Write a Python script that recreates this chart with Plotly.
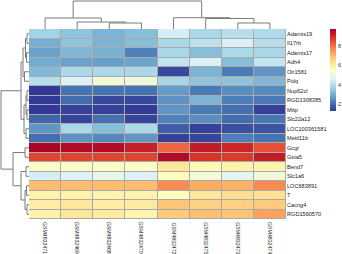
import plotly.graph_objects as go
import numpy as np

samples = ["GSM4832471", "GSM4832469", "GSM4832468", "GSM4832470",
           "GSM4832472", "GSM4832475", "GSM4832473", "GSM4832474"]
genes = ["Adamts19", "Il17rb", "Adamts17", "Adh4", "Olr1581", "Polq", "Nup62cl",
         "RGD1308385", "Mttp", "Slc22a12", "LOC100361581", "Mettl11b", "Gcgr",
         "Gsta5", "Bend7", "Slc1a6", "LOC683891", "T", "Cacng4", "RGD1560570"]

Adamts19 = [3.7, 3.4, 3.1, 3.3, 4.5, 3.8, 4.0, 3.9]
Il17rb = [3.0, 3.4, 3.1, 3.3, 3.8, 4.1, 4.6, 4.0]
Adamts17 = [2.8, 3.15, 3.05, 2.3, 3.8, 3.3, 3.85, 3.8]
Adh4 = [2.95, 2.8, 2.75, 2.85, 4.2, 4.6, 3.3, 4.2]
Olr1581 = [3.2, 3.8, 3.8, 3.8, 1.5, 3.1, 2.2, 2.6]
Polq = [4.0, 4.6, 5.2, 5.1, 3.75, 3.4, 3.4, 3.15]
Nup62cl = [1.3, 2.1, 2.1, 2.1, 2.7, 2.2, 2.5, 2.45]
RGD1308385 = [1.3, 2.0, 1.5, 1.5, 2.55, 3.1, 2.25, 2.2]
Mttp = [1.3, 1.4, 1.4, 1.35, 2.6, 2.2, 2.05, 1.4]
Slc22a12 = [1.9, 1.45, 2.05, 1.45, 2.3, 2.5, 2.0, 2.15]
LOC100361581 = [2.6, 3.8, 3.3, 3.85, 1.8, 1.4, 1.6, 1.65]
Mettl11b = [2.05, 2.55, 2.4, 2.6, 1.4, 1.45, 2.25, 2.1]
Gcgr = [9.7, 9.6, 9.6, 9.25, 8.2, 9.3, 9.1, 8.5]
Gsta5 = [8.65, 8.65, 8.65, 8.65, 9.6, 8.9, 8.8, 9.3]
Bend7 = [5.4, 5.4, 5.4, 5.4, 6.2, 5.6, 5.9, 5.85]
Slc1a6 = [4.5, 4.65, 4.9, 4.6, 5.6, 5.2, 4.8, 5.1]
LOC683891 = [7.0, 7.0, 7.0, 7.0, 7.7, 7.25, 7.15, 7.7]
T = [5.9, 5.9, 5.85, 5.9, 5.55, 6.2, 6.4, 6.35]
Cacng4 = [6.0, 6.2, 6.0, 6.1, 6.85, 6.65, 6.65, 6.75]
RGD1560570 = [5.9, 6.2, 6.1, 5.8, 6.75, 6.95, 6.85, 7.4]

values = [Adamts19, Il17rb, Adamts17, Adh4, Olr1581, Polq, Nup62cl, RGD1308385,
          Mttp, Slc22a12, LOC100361581, Mettl11b, Gcgr, Gsta5, Bend7, Slc1a6,
          LOC683891, T, Cacng4, RGD1560570]

colorbar_ticks = [2, 4, 6, 8]
zmin, zmax = 1.26, 9.8

# linkage (left child, right child, height); leaves are display positions
col_merges = [(2, 3, 6), (1, 8, 7), (0, 9, 11), (6, 7, 6), (5, 11, 10.5),
              (4, 12, 11.3), (10, 13, 28)]
row_merges = [(0, 1, 2), (2, 3, 2.5), (20, 21, 3.5), (4, 5, 4.5), (22, 23, 6),
              (6, 7, 2), (8, 9, 2), (25, 26, 3), (10, 11, 3), (27, 28, 5),
              (24, 29, 8), (12, 13, 4), (14, 15, 3), (16, 17, 2.5), (18, 19, 2),
              (33, 34, 4), (32, 35, 8), (31, 36, 16), (30, 37, 28)]

W, H = 342, 254
hx0, hx1, hy0, hy1 = 29, 286, 29, 219  # heatmap box in px
cbx0, cbx1, cby0, cby1 = 330, 336, 29, 111  # colour key box in px


def dendro(merges, n):
    pos = {i: float(i) for i in range(n)}
    ht = {i: 0.0 for i in range(n)}
    a, b = [], []
    for k, (l, r, h) in enumerate(merges):
        node = n + k
        a += [pos[l], pos[l], pos[r], pos[r], None]
        b += [ht[l], h, h, ht[r], None]
        pos[node] = (pos[l] + pos[r]) / 2
        ht[node] = h
    return a, b


colorscale_hex = ["#313695", "#4575B4", "#74ADD1", "#ABD9E9", "#E0F3F8", "#FFFFBF",
                  "#FEE090", "#FDAE61", "#F46D43", "#D73027", "#A50026"]
cs = [[i / (len(colorscale_hex) - 1), c] for i, c in enumerate(colorscale_hex)]

fig = go.Figure()
fig.add_trace(go.Heatmap(
    z=values, x=list(range(len(samples))), y=list(range(len(genes))),
    colorscale=cs, zmin=zmin, zmax=zmax, xgap=1, ygap=1, showscale=False,
    hoverinfo="skip"))

# colour key as its own small heatmap
key_levels = np.linspace(zmin, zmax, 120)
fig.add_trace(go.Heatmap(
    z=[[v] for v in key_levels], y=key_levels, x=[0], xaxis="x4", yaxis="y4",
    colorscale=cs, zmin=zmin, zmax=zmax, showscale=False, hoverinfo="skip"))

cx, cy = dendro(col_merges, len(samples))
fig.add_trace(go.Scatter(x=cx, y=cy, mode="lines", xaxis="x2", yaxis="y2",
                         line=dict(color="#7a7a7a", width=1), hoverinfo="skip",
                         showlegend=False))
ry, rx = dendro(row_merges, len(genes))
fig.add_trace(go.Scatter(x=rx, y=ry, mode="lines", xaxis="x3", yaxis="y3",
                         line=dict(color="#7a7a7a", width=1), hoverinfo="skip",
                         showlegend=False))

fig.add_shape(type="rect", xref="x", yref="y", x0=-0.5, x1=len(samples) - 0.5,
              y0=-0.5, y1=len(genes) - 0.5, fillcolor="#aaaaaa",
              line=dict(width=0), layer="below")

rfont = dict(family="Liberation Sans", size=5.6, color="#222")
cfont = dict(family="Liberation Sans", size=5.2, color="#222")

for i, s in enumerate(samples):
    fig.add_annotation(x=i, y=1 - (hy1 + 2) / H, xref="x", yref="paper", text=s,
                       textangle=90, showarrow=False, xanchor="center", yanchor="top",
                       font=cfont, borderpad=0)

xd = [hx0 / W, hx1 / W]
yd = [1 - hy1 / H, 1 - hy0 / H]
fig.update_layout(
    width=W, height=H, margin=dict(l=0, r=0, t=0, b=0, autoexpand=False),
    paper_bgcolor="white", plot_bgcolor="white", showlegend=False,
    xaxis=dict(domain=xd, range=[-0.5, len(samples) - 0.5], showticklabels=False,
               showgrid=False, zeroline=False, ticks="", anchor="y", fixedrange=True),
    yaxis=dict(domain=yd, range=[len(genes) - 0.5, -0.5], tickvals=list(range(len(genes))),
               ticktext=genes, side="right", tickfont=rfont, showgrid=False,
               zeroline=False, ticks="", ticklabelstandoff=0, anchor="x",
               fixedrange=True, automargin=False),
    xaxis2=dict(domain=xd, range=[-0.5, len(samples) - 0.5], visible=False, anchor="y2"),
    yaxis2=dict(domain=[1 - hy0 / H, 1], range=[0, hy0], visible=False, anchor="x2"),
    xaxis3=dict(domain=[0, hx0 / W], range=[hx0, 0], visible=False, anchor="y3"),
    yaxis3=dict(domain=yd, range=[len(genes) - 0.5, -0.5], visible=False, anchor="x3"),
    xaxis4=dict(domain=[cbx0 / W, cbx1 / W], range=[-0.5, 0.5], visible=False, anchor="y4"),
    yaxis4=dict(domain=[1 - cby1 / H, 1 - cby0 / H], range=[zmin, zmax], side="right",
                tickvals=colorbar_ticks, tickfont=dict(family="Liberation Sans", size=5.5,
                                                       color="#333"),
                showgrid=False, zeroline=False, ticks="", showline=False,
                ticklabelstandoff=1, anchor="x4", automargin=False, fixedrange=True),
)

fig.write_html("out.html", config={"displayModeBar": False, "staticPlot": True},
               post_script="document.body.style.margin='0';document.body.style.overflow='hidden';")
